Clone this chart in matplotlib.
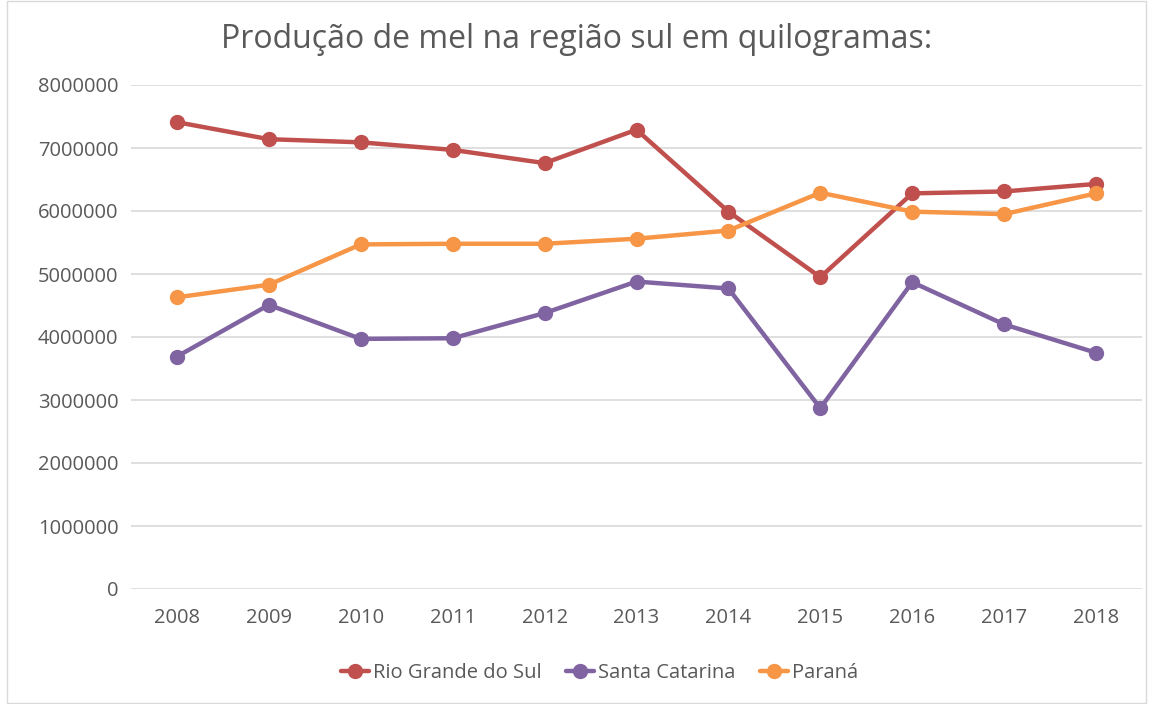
import matplotlib.pyplot as plt

# Dados: produção de mel (kg) por estado
anos = ['2008', '2009', '2010', '2011', '2012', '2013', '2014', '2015', '2016', '2017', '2018']
rio_grande_do_sul = [7410000, 7140000, 7090000, 6970000, 6760000, 7290000, 5990000, 4950000, 6280000, 6310000, 6430000]
santa_catarina = [3690000, 4510000, 3970000, 3980000, 4380000, 4880000, 4770000, 2870000, 4870000, 4200000, 3750000]
parana = [4630000, 4830000, 5470000, 5480000, 5480000, 5560000, 5690000, 6290000, 5990000, 5950000, 6280000]

series = [
    ('Rio Grande do Sul', rio_grande_do_sul, '#C0504D'),
    ('Santa Catarina', santa_catarina, '#8064A2'),
    ('Paraná', parana, '#F79646'),
]

plt.rcParams['font.family'] = ['Open Sans', 'DejaVu Sans']

fig = plt.figure(figsize=(11.53, 7.04), dpi=100)
ax = fig.add_axes([131 / 1153, 1 - 589 / 704, (1142 - 131) / 1153, (589 - 85) / 704])

x = list(range(len(anos)))
for nome, valores, cor in series:
    ax.plot(x, valores, color=cor, linewidth=3.2, marker='o', markersize=10,
            label=nome, solid_capstyle='round')

ax.set_xlim(-0.5, len(anos) - 0.5)
ax.set_ylim(0, 8000000)
ax.set_yticks(range(0, 8000001, 1000000))
ax.set_yticklabels([str(v) for v in range(0, 8000001, 1000000)])
ax.set_xticks(x)
ax.set_xticklabels(anos)
ax.tick_params(axis='both', length=0, labelsize=14.5, colors='#595959')
ax.tick_params(axis='y', pad=9)
ax.tick_params(axis='x', pad=14)
ax.yaxis.grid(True, color='#D9D9D9', linewidth=1.2)
ax.set_axisbelow(True)
for s in ax.spines.values():
    s.set_visible(False)

fig.text(0.5, 1 - 40 / 704, 'Produção de mel na região sul em quilogramas:',
         ha='center', va='center', fontsize=23, color='#595959')

leg = fig.legend(loc='center', bbox_to_anchor=(0.52, 1 - 673 / 704), ncol=3, frameon=False,
                 fontsize=14.5, handlelength=1.4, columnspacing=1.2, handletextpad=0.2)
for t in leg.get_texts():
    t.set_color('#595959')

# borda clara do gráfico
fig.patches.append(plt.Rectangle((7 / 1153, 0.002), 1 - 14 / 1153, 0.996, transform=fig.transFigure,
                                 fill=False, edgecolor='#D9D9D9', linewidth=1))

fig.savefig('out.png', dpi=100)
